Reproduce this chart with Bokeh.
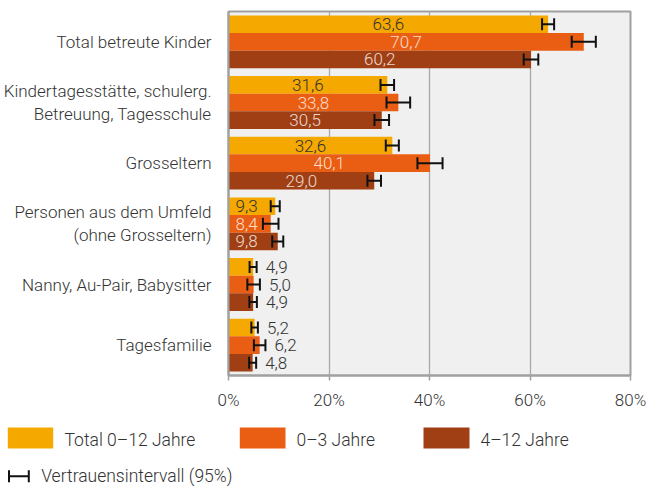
import numpy as np
from bokeh.plotting import figure
from bokeh.models import (ColumnDataSource, Whisker, TeeHead, FixedTicker, Range1d,
                          CustomJSTickFormatter)
from bokeh.layouts import column
from bokeh.core.properties import value
from bokeh.embed import file_html
from bokeh.resources import INLINE

# ---------------- data ----------------
categories = [
    "Total betreute Kinder",
    "Kindertagesstätte, schulerg.\nBetreuung, Tagesschule",
    "Grosseltern",
    "Personen aus dem Umfeld\n(ohne Grosseltern)",
    "Nanny, Au-Pair, Babysitter",
    "Tagesfamilie",
]
series_names = ["Total 0–12 Jahre", "0–3 Jahre", "4–12 Jahre"]
total_0_12 = [63.6, 31.6, 32.6, 9.3, 4.9, 5.2]
age_0_3 = [70.7, 33.8, 40.1, 8.4, 5.0, 6.2]
age_4_12 = [60.2, 30.5, 29.0, 9.8, 4.9, 4.8]
ci_total_0_12 = [1.2, 1.35, 1.3, 0.9, 0.7, 0.65]
ci_age_0_3 = [2.4, 2.35, 2.5, 1.55, 1.25, 1.15]
ci_age_4_12 = [1.45, 1.45, 1.35, 1.1, 0.75, 0.7]
x_ticks = [0, 20, 40, 60, 80]
x_tick_labels = ["0%", "20%", "40%", "60%", "80%"]
ci_label = "Vertrauensintervall (95%)"

colors = ["#F5A900", "#E95E12", "#A13F14"]
FONT = "Roboto Light"
TXT = "#333333"
GRID = "#a8a8a8"
FS = "17px"
W = 646

values = [total_0_12, age_0_3, age_4_12]
cis = [ci_total_0_12, ci_age_0_3, ci_age_4_12]
bar_h = 0.29
offsets = [-bar_h, 0.0, bar_h]


def no_frame_align(fig):
    try:
        fig.frame_align = False
    except Exception:
        pass


# ---------------- main figure ----------------
p = figure(width=W, height=412, x_range=Range1d(0, 80), y_range=Range1d(5.5, -0.5),
           output_backend="svg", toolbar_location=None,
           min_border_left=225, min_border_right=W - 630, min_border_top=11, min_border_bottom=35,
           background_fill_color="#eff0ef", border_fill_color="white")
no_frame_align(p)

p.outline_line_color = "#a0a0a0"
p.outline_line_width = 2
p.ygrid.visible = False
p.xgrid.ticker = FixedTicker(ticks=x_ticks)
p.xgrid.grid_line_color = GRID
p.xgrid.grid_line_width = 1.3

p.xaxis.ticker = FixedTicker(ticks=x_ticks)
p.xaxis.major_label_overrides = {t: l for t, l in zip(x_ticks, x_tick_labels)}
p.xaxis.axis_line_color = "#a0a0a0"
p.xaxis.axis_line_width = 2
p.xaxis.major_tick_line_color = "#a0a0a0"
p.xaxis.major_tick_line_width = 1.5
p.xaxis.major_tick_out = 5
p.xaxis.major_tick_in = 0
p.xaxis.minor_tick_line_color = None
p.xaxis.major_label_standoff = 9
p.xaxis.major_label_text_font = FONT
p.xaxis.major_label_text_font_size = FS
p.xaxis.major_label_text_color = TXT

p.yaxis.ticker = FixedTicker(ticks=list(range(len(categories))))
p.yaxis.formatter = CustomJSTickFormatter(args=dict(labels=categories),
                                          code="return labels[Math.round(tick)];")
p.yaxis.axis_line_color = "#a0a0a0"
p.yaxis.axis_line_width = 2
p.yaxis.major_tick_line_color = None
p.yaxis.minor_tick_line_color = None
p.yaxis.major_tick_out = 0
p.yaxis.major_tick_in = 0
p.yaxis.major_label_standoff = 17
p.yaxis.major_label_text_font = FONT
p.yaxis.major_label_text_font_size = FS
p.yaxis.major_label_text_color = TXT
p.yaxis.major_label_text_line_height = 1.15

idx = np.arange(len(categories))
for j, (vals, ci) in enumerate(zip(values, cis)):
    vals = np.array(vals)
    ci = np.array(ci)
    y = idx + offsets[j]
    src = ColumnDataSource(dict(y=y, v=vals, lo=vals - ci, hi=vals + ci))
    p.hbar(y="y", right="v", left=0, height=bar_h, source=src,
           fill_color=colors[j], line_color=None)
    p.add_layout(Whisker(source=src, base="y", lower="lo", upper="hi", dimension="width",
                         line_color="#111111", line_width=2, level="overlay",
                         upper_head=TeeHead(size=12, line_color="#111111", line_width=2),
                         lower_head=TeeHead(size=12, line_color="#111111", line_width=2)))

    # value labels
    lx, ly, lt, la, lo_, lc, lal = [], [], [], [], [], [], []
    for v, c, yy in zip(vals, ci, y):
        lt.append(f"{v:.1f}".replace(".", ","))
        ly.append(yy)
        if v >= 20:
            lx.append(v / 2); la.append("center"); lo_.append(0)
            lc.append(TXT if j == 0 else "#ffffff"); lal.append(1.0 if j == 0 else 0.8)
        elif v >= 8:
            lx.append(0); la.append("left"); lo_.append(7)
            lc.append(TXT if j == 0 else "#ffffff"); lal.append(1.0 if j == 0 else 0.8)
        else:
            lx.append(v + c); la.append("left"); lo_.append(9)
            lc.append(TXT); lal.append(1.0)
    lsrc = ColumnDataSource(dict(x=lx, y=ly, t=lt, a=la, o=lo_, c=lc, al=lal))
    p.text(x="x", y="y", text="t", text_align="a", x_offset="o", text_color="c",
           text_alpha="al", text_baseline="middle", text_font=value(FONT),
           text_font_size=FS, source=lsrc)

# ---------------- legend figure ----------------
LH = 75
leg = figure(width=W, height=LH, x_range=Range1d(0, W), y_range=Range1d(LH, 0),
             output_backend="svg", toolbar_location=None, min_border=0,
             min_border_left=0, min_border_right=0, min_border_top=0, min_border_bottom=0,
             x_axis_type=None, y_axis_type=None, outline_line_color=None,
             border_fill_color="white", background_fill_color="white")
no_frame_align(leg)
leg.grid.visible = False

LFS = "17.5px"
sw_left = [7.3, 239.3, 423]
sw_right = [52.7, 285, 469]
txt_x = [64, 296, 480]
leg.quad(left=sw_left, right=sw_right, top=15, bottom=36, fill_color=colors, line_color=None)
leg.text(x=txt_x, y=[27] * 3, text=series_names, text_baseline="middle",
         text_align="left", text_font=value(FONT), text_font_size=LFS, text_color=TXT)

wsrc = ColumnDataSource(dict(base=[63.7], lower=[8.5], upper=[28.3]))
leg.add_layout(Whisker(source=wsrc, base="base", lower="lower", upper="upper",
                       dimension="width", line_color="#111111", line_width=2, level="overlay",
                       upper_head=TeeHead(size=12, line_color="#111111", line_width=2),
                       lower_head=TeeHead(size=12, line_color="#111111", line_width=2)))
leg.text(x=[40.7], y=[63], text=[ci_label], text_baseline="middle", text_align="left",
         text_font=value(FONT), text_font_size=LFS, text_color=TXT)

layout = column(p, leg, spacing=0)
open("out.html", "w").write(file_html(layout, INLINE))
